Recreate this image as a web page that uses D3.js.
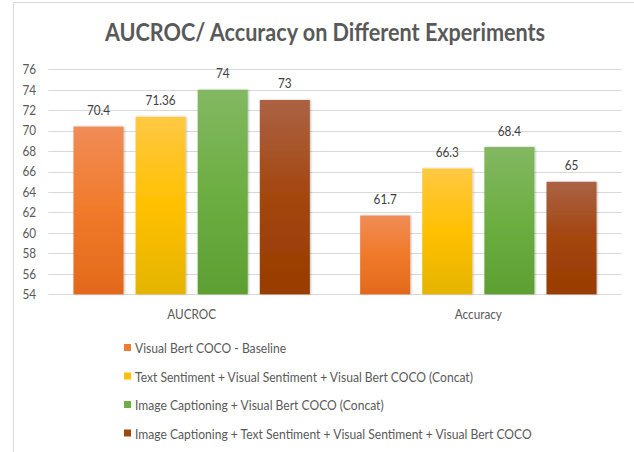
<!DOCTYPE html>
<html>
<head>
<meta charset="utf-8">
<script src="https://cdn.jsdelivr.net/npm/d3@7"></script>
<style>
  body { margin: 0; background: #fff; }
  svg { display: block; font-family: Lato, "Open Sans", sans-serif; }
</style>
</head>
<body>
<svg id="chart" width="634" height="452"></svg>
<script>
const categories = ['AUCROC', 'Accuracy'];
const series = [
  'Visual Bert COCO - Baseline',
  'Text Sentiment + Visual Sentiment + Visual Bert COCO (Concat)',
  'Image Captioning + Visual Bert COCO (Concat)',
  'Image Captioning + Text Sentiment + Visual Sentiment + Visual Bert COCO',
];
const aucrocValues = [70.4, 71.36, 74, 73];
const accuracyValues = [61.7, 66.3, 68.4, 65];
const yTicks = [54, 56, 58, 60, 62, 64, 66, 68, 70, 72, 74, 76];

const values = [aucrocValues, accuracyValues];
const colors = ['#ED7D31', '#FFC000', '#70AD47', '#9E480E'];
const gradStops = [
  ['#F08C56', '#F07A2A', '#E2691A'],
  ['#FFC843', '#FFC000', '#E4B400'],
  ['#82B862', '#6DAE42', '#5E9F32'],
  ['#AB6244', '#A3460F', '#983C00'],
];

// Lato is wider than the Calibri of the original, so text is squeezed a bit
const SQ = 0.87;

const svg = d3.select('#chart');

// gradients
const defs = svg.append('defs');
gradStops.forEach((s, i) => {
  const g = defs.append('linearGradient')
    .attr('id', 'grad' + i)
    .attr('x1', 0).attr('y1', 0).attr('x2', 0).attr('y2', 1);
  g.append('stop').attr('offset', '0%').attr('stop-color', s[0]);
  g.append('stop').attr('offset', '50%').attr('stop-color', s[1]);
  g.append('stop').attr('offset', '100%').attr('stop-color', s[2]);
});
const shadow = defs.append('filter').attr('id', 'shadow')
  .attr('x', '-20%').attr('y', '-10%').attr('width', '140%').attr('height', '120%');
shadow.append('feDropShadow')
  .attr('dx', 1).attr('dy', 0).attr('stdDeviation', 1.2)
  .attr('flood-color', '#000').attr('flood-opacity', 0.25);

// chart border
svg.append('path')
  .attr('d', 'M13.5,452 L13.5,2.5 L634,2.5')
  .attr('fill', 'none')
  .attr('stroke', '#d9d9d9')
  .attr('stroke-width', 1);

// title
svg.append('text')
  .attr('transform', 'translate(325,40.5) scale(0.9,1)')
  .attr('text-anchor', 'middle')
  .attr('font-size', 24)
  .attr('font-weight', 'bold')
  .attr('fill', '#595959')
  .text('AUCROC/ Accuracy on Different Experiments');

const y = d3.scaleLinear().domain([54, 76]).range([294.3, 69.3]);
const x0 = d3.scaleBand().domain(categories).range([48.3, 621.7]).padding(0);
const x1 = d3.scaleBand().domain(d3.range(series.length))
  .range([0, x0.bandwidth()])
  .paddingInner(0.194)
  .paddingOuter(0.405);

// grid
svg.append('g')
  .selectAll('line')
  .data(yTicks)
  .join('line')
  .attr('x1', x0.range()[0])
  .attr('x2', x0.range()[1])
  .attr('y1', d => Math.round(y(d)) + 0.5)
  .attr('y2', d => Math.round(y(d)) + 0.5)
  .attr('stroke', '#d9d9d9')
  .attr('stroke-width', 1);

// y axis labels
const yAxis = svg.append('g')
  .attr('transform', 'translate(36,0)')
  .call(d3.axisLeft(y).tickValues(yTicks).tickSize(0).tickPadding(0));
yAxis.select('.domain').remove();
yAxis.selectAll('text')
  .attr('font-family', 'Lato, "Open Sans", sans-serif')
  .attr('font-size', 13.5)
  .attr('fill', '#595959')
  .attr('transform', `scale(${SQ},1)`);

// bars
const groups = svg.append('g')
  .selectAll('g')
  .data(categories)
  .join('g')
  .attr('transform', d => `translate(${x0(d)},0)`);

groups.selectAll('rect')
  .data((d, i) => values[i].map((v, j) => ({ v, j })))
  .join('rect')
  .attr('x', d => x1(d.j))
  .attr('y', d => y(d.v))
  .attr('width', x1.bandwidth())
  .attr('height', d => y(54) - y(d.v))
  .attr('fill', d => `url(#grad${d.j})`)
  .attr('filter', 'url(#shadow)');

groups.selectAll('text.label')
  .data((d, i) => values[i].map((v, j) => ({ v, j })))
  .join('text')
  .attr('class', 'label')
  .attr('transform', d => `translate(${x1(d.j) + x1.bandwidth() / 2},${y(d.v) - 11.5}) scale(${SQ},1)`)
  .attr('text-anchor', 'middle')
  .attr('font-size', 13.5)
  .attr('fill', '#404040')
  .text(d => d.v);

// category labels
svg.append('g')
  .selectAll('text')
  .data(categories)
  .join('text')
  .attr('transform', d => `translate(${x0(d) + x0.bandwidth() / 2},319) scale(${SQ},1)`)
  .attr('text-anchor', 'middle')
  .attr('font-size', 13.5)
  .attr('fill', '#595959')
  .text(d => d);

// legend
const legend = svg.append('g')
  .selectAll('g')
  .data(series)
  .join('g')
  .attr('transform', (d, i) => `translate(124,${347.5 + i * 28.5})`);

legend.append('rect')
  .attr('x', 0)
  .attr('y', -3.5)
  .attr('width', 7)
  .attr('height', 7)
  .attr('fill', (d, i) => colors[i]);

legend.append('text')
  .attr('transform', `translate(11,5.5) scale(${SQ - 0.005},1)`)
  .attr('font-size', 14)
  .attr('fill', '#595959')
  .text(d => d);
</script>
</body>
</html>
